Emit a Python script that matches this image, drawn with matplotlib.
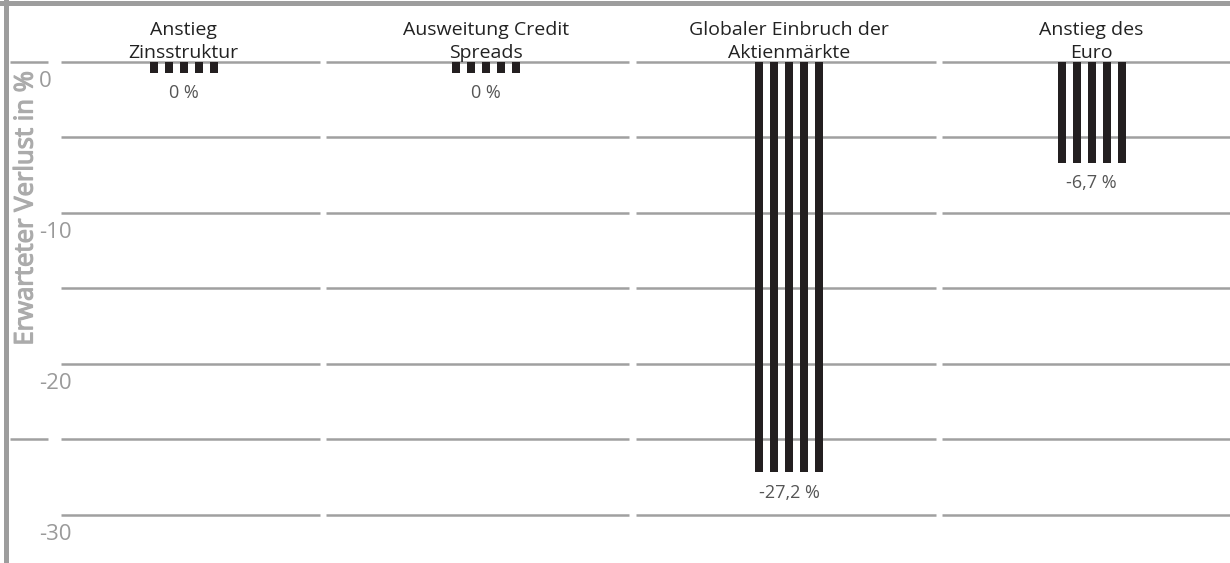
import matplotlib.pyplot as plt
import matplotlib.patheffects as pe
from matplotlib.lines import Line2D

plt.rcParams['font.family'] = ['Open Sans', 'DejaVu Sans']

# data
categories = ["Anstieg\nZinsstruktur", "Ausweitung Credit\nSpreads",
              "Globaler Einbruch der\nAktienmärkte", "Anstieg des\nEuro"]
losses = [0.0, 0.0, -27.2, -6.7]
value_labels = ["0 %", "0 %", "-27,2 %", "-6,7 %"]
grid_levels = [0, -5, -10, -15, -20, -25, -30]
tick_levels = [0, -10, -20, -30]
tick_labels = ["0", "-10", "-20", "-30"]
y_title = "Erwarteter Verlust in %"

# layout / style
W, H, DPI = 1230, 563, 100
XLIM = (-0.607, 3.457)
YLIM = (-33.2, 4.1)
grid_edges = [-0.415, 0.46, 1.483, 2.495, 3.5]
stub = (-0.574, -0.448)
stub_levels = [0, -25]
gap = 0.011
n_stripes = 5
stripe_w = 0.0264
stripe_step = 0.0496
min_bar = 0.75
bar_color = "#231f20"
grid_color = "#a0a0a0"
frame_color = "#9d9d9d"
title_grey = "#ababab"

fig = plt.figure(figsize=(W / DPI, H / DPI), dpi=DPI)
ax = fig.add_axes([0, 0, 1, 1])
ax.set_xlim(*XLIM)
ax.set_ylim(*YLIM)
ax.axis("off")

# gridlines, broken at the category boundaries
for lvl in grid_levels:
    for a, b in zip(grid_edges[:-1], grid_edges[1:]):
        ax.plot([a + gap, b - gap], [lvl, lvl], color=grid_color, lw=1.8,
                solid_capstyle="butt", zorder=1)
    if lvl in stub_levels:
        ax.plot(stub, [lvl, lvl], color=grid_color, lw=1.8,
                solid_capstyle="butt", zorder=1)

# striped bars
for i, (v, lab) in enumerate(zip(losses, value_labels)):
    h = min(v, -min_bar)
    for k in range(n_stripes):
        xs = i + (k - (n_stripes - 1) / 2) * stripe_step
        ax.bar(xs, h, width=stripe_w, color=bar_color, zorder=3)
    ax.annotate(lab, (i, h), xytext=(0, -8), textcoords="offset points",
                ha="center", va="top", fontsize=13, color="#555555")

# category titles above the zero line
for i, name in enumerate(categories):
    ax.text(i, 0.25, name, ha="center", va="baseline", fontsize=14,
            color="#222222", linespacing=1.4, zorder=4)

# y tick labels
for lvl, t in zip(tick_levels, tick_labels):
    ax.annotate(t, (-0.478, lvl), xytext=(0, -14), textcoords="offset points",
                ha="left", va="center", fontsize=16, color="#9a9a9a")

# semibold look: regular weight thickened with a thin stroke
fig.text(26 / W, 1 - 208 / H, y_title, rotation=90, ha="center", va="center",
         fontsize=18.5, color=title_grey,
         path_effects=[pe.withStroke(linewidth=0.9, foreground=title_grey)])

# frame pieces
fig.add_artist(Line2D([5.5 / W, 5.5 / W], [0, 1], color=frame_color, lw=3.6))
fig.add_artist(Line2D([0, 1], [1 - 2.5 / H, 1 - 2.5 / H], color=frame_color, lw=3.6))

fig.savefig("out.png", dpi=DPI)
